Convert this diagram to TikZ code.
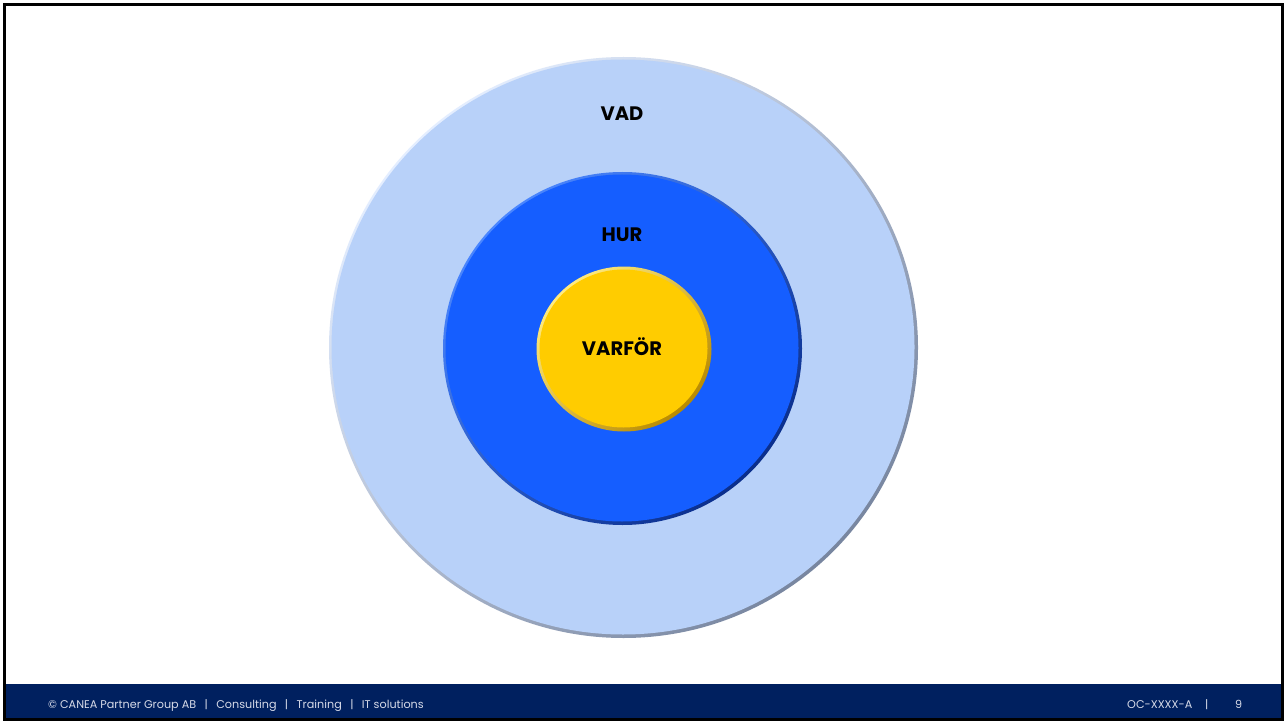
\documentclass[tikz,border=0pt]{standalone}
\usepackage{fontspec}
\setmainfont{Poppins}
\definecolor{vadfill}{HTML}{B8D1F9}
\definecolor{vadhi}{HTML}{E4EEFF}
\definecolor{vadlo}{HTML}{7886A0}
\definecolor{hurfill}{HTML}{155EFF}
\definecolor{hurhi}{HTML}{4A86FF}
\definecolor{hurlo}{HTML}{0A2E8C}
\definecolor{varfill}{HTML}{FFCC00}
\definecolor{varhi}{HTML}{FFEB80}
\definecolor{varlo}{HTML}{B88A00}
\definecolor{navy}{HTML}{00205F}
\definecolor{foottext}{HTML}{D6DAE8}
\tikzset{
  lab/.style={font=\fontsize{19.5}{21}\selectfont\bfseries, text=black, inner sep=0pt},
  foot/.style={font=\fontsize{11.2}{13}\selectfont, text=foottext, inner sep=0pt, anchor=base west},
}
\newcommand{\fsep}{\hspace{0.75em}|\hspace{0.75em}}
\begin{document}
\begin{tikzpicture}[x=1pt,y=-1pt]
\useasboundingbox (0,0) rectangle (1287,722);
\fill[white] (0,0) rectangle (1287,722);
% outer ring VAD
\shade[top color=vadhi, bottom color=vadlo, shading angle=45] (623.5,347.5) ellipse [x radius=294.5pt, y radius=290.5pt];
\fill[vadfill] (623,347) ellipse [x radius=291.5pt, y radius=287.5pt];
% middle ring HUR
\shade[top color=hurhi, bottom color=hurlo, shading angle=45] (622.5,348.5) ellipse [x radius=179.5pt, y radius=176.5pt];
\fill[hurfill] (622,348) ellipse [x radius=176.5pt, y radius=173.5pt];
% inner VARFOR
\shade[top color=varhi, bottom color=varlo, shading angle=45] (624,349) ellipse [x radius=87.5pt, y radius=82.5pt];
\fill[varfill] (623.5,348.5) ellipse [x radius=84pt, y radius=79pt];
% labels
\node[lab] (vad) at (622,114) {VAD};
\node[lab] (hur) at (622,235) {HUR};
\node[lab] (varfor) at (622,346.5) {VARFÖR};
% footer
\fill[navy] (4,684) rectangle (1283,720);
\node[foot] (copy) at (48,708) {© CANEA Partner Group AB\fsep Consulting\fsep Training\fsep IT solutions};
\node[foot] (code) at (1127,708) {OC-XXXX-A};
\node[foot] (bar) at (1205,708) {|};
\node[foot] (page) at (1235,708) {9};
% border
\draw[black, line width=3pt] (4.5,4.5) rectangle (1282,719.5);
\end{tikzpicture}
\end{document}
